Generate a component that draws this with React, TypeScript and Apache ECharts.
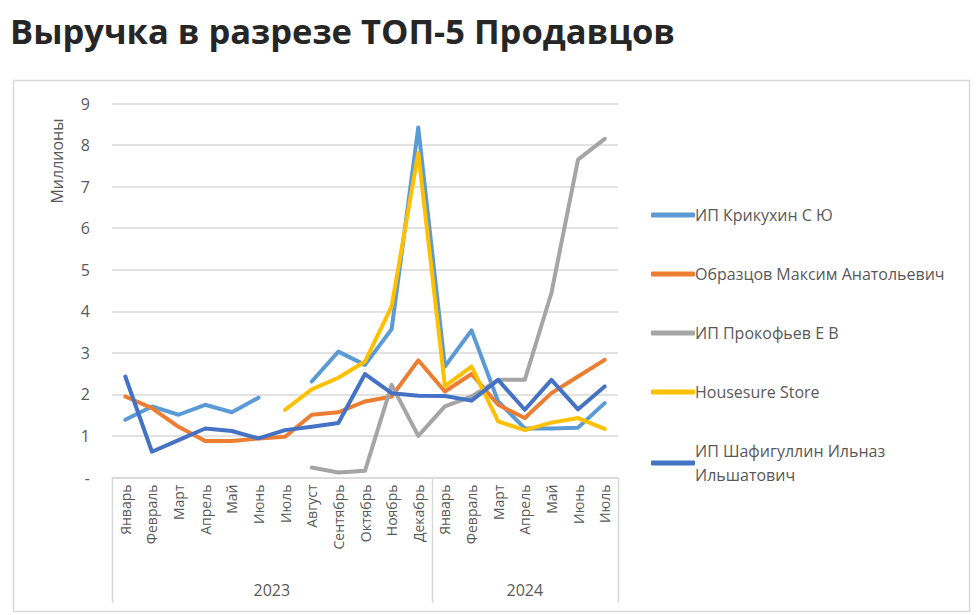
import React, { useEffect, useRef } from "react";
import * as echarts from "echarts";

const months = [
  "Январь", "Февраль", "Март", "Апрель", "Май", "Июнь", "Июль", "Август", "Сентябрь", "Октябрь", "Ноябрь", "Декабрь",
  "Январь", "Февраль", "Март", "Апрель", "Май", "Июнь", "Июль",
];
const years = ["2023", "2024"];
const yearSpans = [12, 7];
const yTicks = [0, 1, 2, 3, 4, 5, 6, 7, 8, 9];

const seriesNames = [
  "ИП Крикухин С Ю",
  "Образцов Максим Анатольевич",
  "ИП Прокофьев Е В",
  "Housesure Store",
  "ИП Шафигуллин Ильназ Ильшатович",
];
const colors = ["#5B9BD5", "#ED7D31", "#A5A5A5", "#FFC000", "#4472C4"];

const krikukhin = [1.39, 1.71, 1.51, 1.75, 1.57, 1.92, null, 2.31, 3.03, 2.71, 3.57, 8.42, 2.67, 3.54, 1.83, 1.18, 1.18, 1.2, 1.79];
const obraztsov = [1.95, 1.67, 1.22, 0.88, 0.88, 0.94, 0.98, 1.51, 1.57, 1.83, 1.95, 2.82, 2.07, 2.49, 1.75, 1.43, 2.03, 2.43, 2.83];
const prokofiev = [null, null, null, null, null, null, null, 0.24, 0.12, 0.16, 2.23, 1.0, 1.71, 1.95, 2.35, 2.35, 4.44, 7.65, 8.15];
const housesure = [null, null, null, null, null, null, 1.63, 2.12, 2.4, 2.79, 4.12, 7.81, 2.2, 2.67, 1.35, 1.14, 1.32, 1.43, 1.17];
const shafigullin = [2.43, 0.62, 0.9, 1.18, 1.12, 0.94, 1.14, 1.22, 1.31, 2.49, 2.03, 1.97, 1.96, 1.85, 2.35, 1.63, 2.35, 1.64, 2.19];

const allData = [krikukhin, obraztsov, prokofiev, housesure, shafigullin];

const FONT = "'Open Sans', 'Noto Sans', sans-serif";
const TXT = "#595959";

export default function App() {
  const ref = useRef<HTMLDivElement>(null);
  useEffect(() => {
    if (!ref.current) return;
    const chart = echarts.init(ref.current, undefined, { renderer: "svg" });
    const gridLeft = 112;
    const gridRight = 977 - 618;
    const gridTop = 103.5;
    const gridBottom = 615 - 477.5;
    chart.setOption({
      animation: false,
      backgroundColor: "#ffffff",
      title: {
        text: "Выручка в разрезе ТОП-5 Продавцов",
        left: 5,
        top: 8,
        textStyle: { fontFamily: FONT, fontWeight: "bold", fontSize: 34.5, color: "#262626" },
      },
      grid: { left: gridLeft, right: gridRight, top: gridTop, bottom: gridBottom, containLabel: false },
      legend: {
        orient: "vertical",
        left: 646,
        top: 198,
        itemWidth: 44,
        itemHeight: 5,
        itemGap: 35,
        icon: "roundRect",
        data: seriesNames,
        formatter: (n: string) => (n === "ИП Шафигуллин Ильназ Ильшатович" ? "ИП Шафигуллин Ильназ\nИльшатович" : n),
        textStyle: { fontFamily: FONT, fontSize: 16, color: TXT, lineHeight: 24, padding: [0, 0, 0, -5] },
      },
      xAxis: {
        type: "category",
        data: months,
        boundaryGap: true,
        axisLine: { show: true, lineStyle: { color: "#d9d9d9", width: 1.5 } },
        axisTick: { show: false },
        axisLabel: {
          interval: 0,
          rotate: 90,
          margin: 7,
          fontFamily: FONT,
          fontSize: 14,
          color: TXT,
        },
      },
      yAxis: {
        type: "value",
        min: 0,
        max: 9,
        interval: 1,
        axisLine: { show: false },
        axisTick: { show: false },
        splitLine: { lineStyle: { color: "#d9d9d9", width: 1.5 } },
        axisLabel: {
          margin: 22,
          fontFamily: FONT,
          fontSize: 16,
          color: TXT,
          formatter: (v: number) => (v === 0 ? "-" : String(v)),
          customValues: yTicks,
        },
      },
      series: allData.map((d, i) => ({
        name: seriesNames[i],
        type: "line",
        data: d,
        connectNulls: false,
        showSymbol: false,
        symbol: "none",
        color: colors[i],
        lineStyle: { width: 4, color: colors[i], cap: "round", join: "round" },
        z: i === 4 ? 3 : 2,
      })),
    });

    const p0 = chart.convertToPixel({ xAxisIndex: 0 }, 0) as number;
    const p1 = chart.convertToPixel({ xAxisIndex: 0 }, 1) as number;
    const bw = p1 - p0;
    const leftEdge = p0 - bw / 2;
    const graphics: any[] = [
      {
        type: "rect",
        shape: { x: 13.5, y: 80.5, width: 956, height: 531 },
        style: { fill: "none", stroke: "#d9d9d9", lineWidth: 1.5 },
        silent: true,
      },
      {
        type: "text",
        x: 57,
        y: 161,
        rotation: Math.PI / 2,
        style: { text: "Миллионы", fontFamily: FONT, fontSize: 16, fill: TXT, align: "center", verticalAlign: "middle" },
      },
    ];
    let start = 0;
    const bounds = [0];
    yearSpans.forEach((span, k) => {
      const cx = leftEdge + (start + span / 2) * bw;
      graphics.push({
        type: "text",
        x: cx,
        y: 590,
        style: { text: years[k], fontFamily: FONT, fontSize: 16, fill: TXT, align: "center", verticalAlign: "middle" },
      });
      start += span;
      bounds.push(start);
    });
    bounds.forEach((b) => {
      const x = Math.round(leftEdge + b * bw) + 0.5;
      graphics.push({
        type: "line",
        shape: { x1: x, y1: 477.5, x2: x, y2: 603 },
        style: { stroke: "#d9d9d9", lineWidth: 1.5 },
      });
    });
    chart.setOption({ graphic: graphics });

    return () => chart.dispose();
  }, []);
  return (
    <div
      ref={ref}
      style={{ position: "fixed", left: 0, top: 0, width: 977, height: 615 }}
    />
  );
}
